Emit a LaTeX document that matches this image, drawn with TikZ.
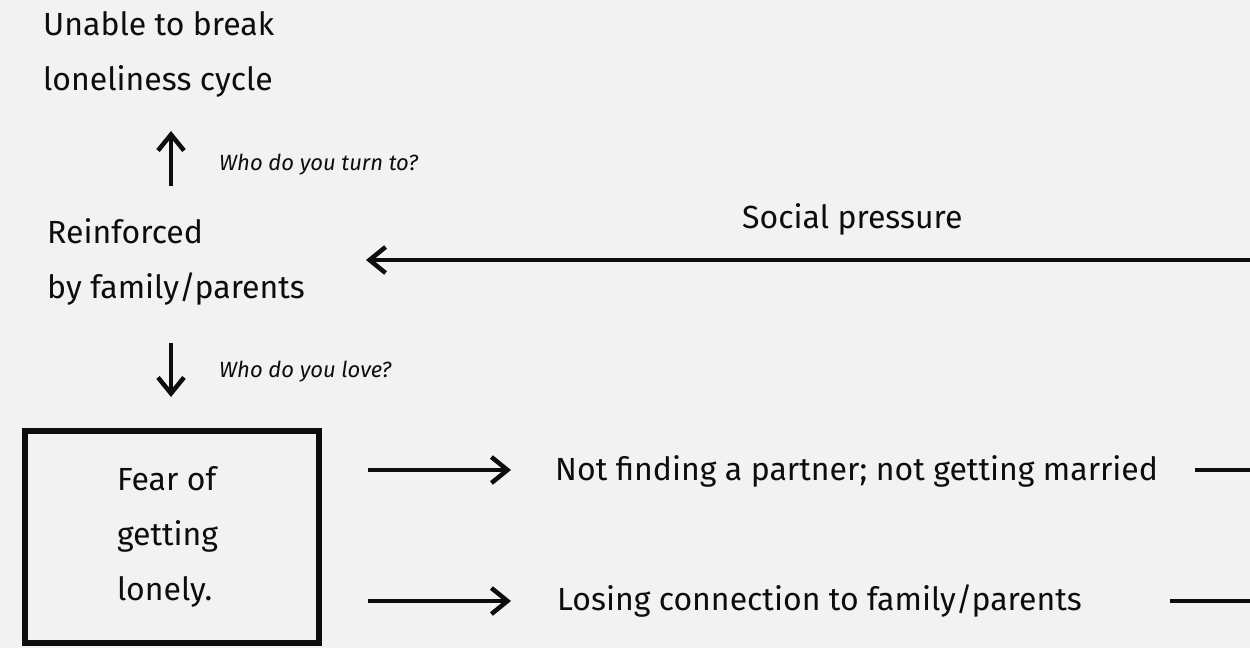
\documentclass[tikz,border=0pt]{standalone}
\usepackage{fontspec}
\setmainfont{Fira Sans}
\usetikzlibrary{arrows.meta}
\definecolor{bg}{HTML}{F2F2F2}
\definecolor{ink}{HTML}{0D0D0D}
\begin{document}
\begin{tikzpicture}[x=1pt,y=-1pt,
  txt/.style={font=\fontsize{32}{55}\selectfont, text=ink, inner sep=0pt, align=left, anchor=base west},
  note/.style={font=\fontsize{22}{24}\selectfont\itshape, text=ink, inner sep=0pt, anchor=base west},
  arr/.style={line width=4.5pt, draw=ink, -{Straight Barb[length=16pt,width=26pt,line width=4.5pt]}},
  link/.style={line width=4.5pt, draw=ink},
  fearbox/.style={draw=ink, line width=6pt, minimum width=294pt, minimum height=212pt,
    font=\fontsize{32}{55}\selectfont, text=ink, align=flush left, text width=110pt, inner sep=0pt},
]
\fill[bg] (0,0) rectangle (1250,648);
\useasboundingbox (0,0) rectangle (1250,648);

% texts (anchored at the baseline of the last line)
\node[txt] (unable) at (43,90) {Unable to break\\loneliness cycle};
\node[txt] (reinf) at (47,298) {Reinforced\\by family/parents};
\node[txt] (social) at (742,228) {Social pressure};
\node[txt] (partner) at (555,480) {Not finding a partner; not getting married};
\node[txt] (losing) at (557,610) {Losing connection to family/parents};
\node[fearbox] (fear) at (172,537) {\mbox{Fear of}\\getting\\lonely.};

\node[note] (qturn) at (219,170) {Who do you turn to?};
\node[note] (qlove) at (219,377) {Who do you love?};

% connector end points
\coordinate (upS) at (171,186);
\coordinate (upE) at (171,131);
\coordinate (dnS) at (171,343);
\coordinate (dnE) at (171,397);
\coordinate (spS) at (1252,260);
\coordinate (spE) at (366,260);
\coordinate (p1S) at (368,470);
\coordinate (p1E) at (511,470);
\coordinate (p2S) at (368,601);
\coordinate (p2E) at (511,601);
\coordinate (r1S) at (1195,470);
\coordinate (r1E) at (1252,470);
\coordinate (r2S) at (1170,601);
\coordinate (r2E) at (1252,601);

% connectors
\draw[arr] (upS) -- (upE);
\draw[arr] (dnS) -- (dnE);
\draw[arr] (spS) -- (spE);
\draw[arr] (p1S) -- (p1E);
\draw[arr] (p2S) -- (p2E);
\draw[link] (r1S) -- (r1E);
\draw[link] (r2S) -- (r2E);
\end{tikzpicture}
\end{document}
